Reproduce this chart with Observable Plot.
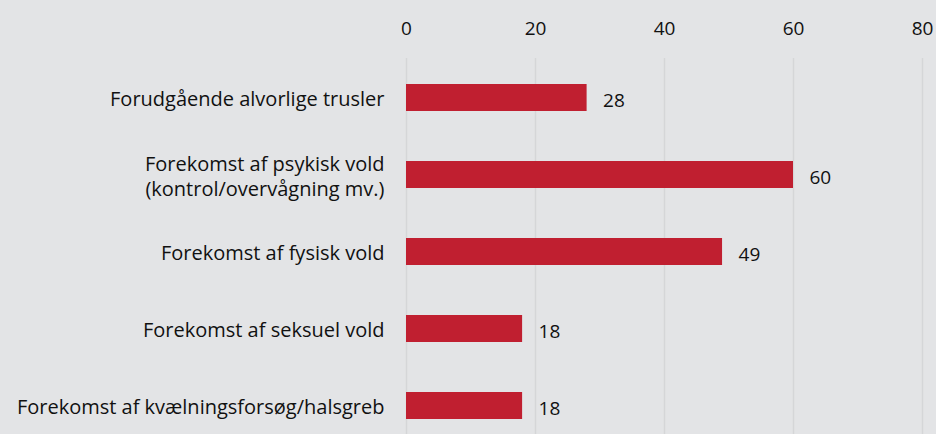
<!DOCTYPE html>
<html>
<head>
<meta charset="utf-8">
<script src="https://cdn.jsdelivr.net/npm/d3@7"></script>
<script src="https://cdn.jsdelivr.net/npm/@observablehq/plot@0.6"></script>
<style>
  html, body { margin: 0; padding: 0; background: #e3e4e6; }
  #chart svg { display: block; }
</style>
</head>
<body>
<div id="chart"></div>
<script>
const categories = [
  "Forudgående alvorlige trusler",
  "Forekomst af psykisk vold\n(kontrol/overvågning mv.)",
  "Forekomst af fysisk vold",
  "Forekomst af seksuel vold",
  "Forekomst af kvælningsforsøg/halsgreb"
];
const values = [28, 60, 49, 18, 18];
const xTicks = [0, 20, 40, 60, 80];

const data = categories.map((c, i) => ({category: c, value: values[i]}));

const chart = Plot.plot({
  width: 936,
  height: 434,
  marginTop: 58,
  marginBottom: 0,
  marginLeft: 406,
  marginRight: 14,
  style: {background: "#e3e4e6", fontFamily: "'Open Sans', sans-serif", fontSize: "20px", color: "#111"},
  x: {domain: [0, 80], ticks: xTicks, axis: null, label: null},
  y: {domain: categories, paddingInner: 0.651, paddingOuter: 0.2575, align: 0.628, axis: null, label: null},
  marks: [
    Plot.ruleX(xTicks, {stroke: "#d5d6d8", strokeWidth: 1.5}),
    Plot.axisX({anchor: "top", ticks: xTicks, tickSize: 0, tickPadding: 0, dy: -24, fontSize: 19, fill: "#111", label: null}),
    Plot.barX(data, {x: "value", y: "category", fill: "#c01f30"}),
    Plot.text(data, {x: "value", y: "category", text: d => String(d.value), textAnchor: "start", dx: 16, dy: 3, fontSize: 19, fill: "#111"}),
    Plot.text(data, {x: 0, y: "category", text: "category", textAnchor: "end", dx: -22, fontSize: 20, fill: "#111", lineHeight: 1.25})
  ]
});
document.getElementById("chart").appendChild(chart);
</script>
</body>
</html>
